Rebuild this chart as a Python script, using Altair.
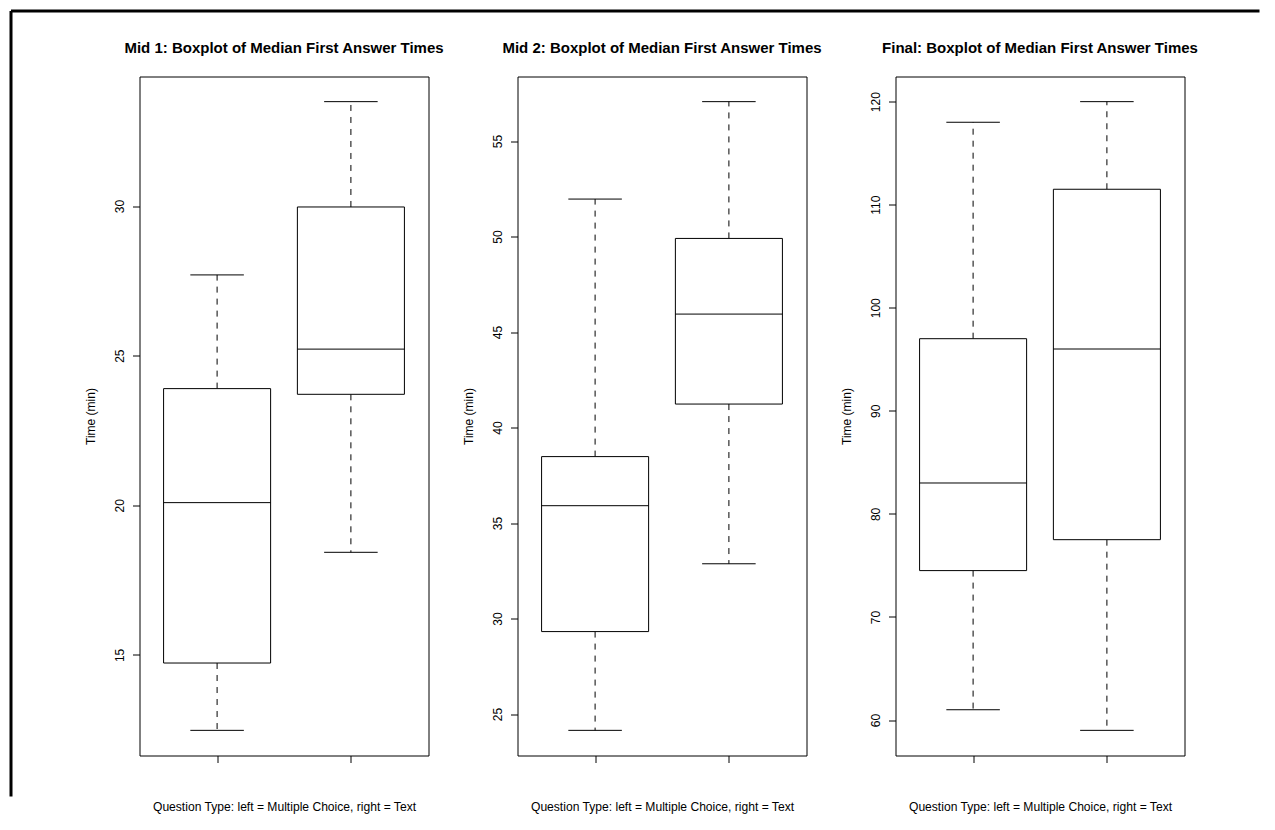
import altair as alt
import pandas as pd

# ---- data ----
exams = ["Mid 1", "Mid 2", "Final"]
group_labels = ["Multiple Choice", "Text"]
positions = [1, 2]

whisker_low = {"Mid 1": [12.48, 18.43], "Mid 2": [24.15, 32.87], "Final": [61.0, 59.0]}
q1_values = {"Mid 1": [14.73, 23.71], "Mid 2": [29.32, 41.23], "Final": [74.5, 77.5]}
median_values = {"Mid 1": [20.09, 25.22], "Mid 2": [35.91, 45.94], "Final": [83.0, 96.0]}
q3_values = {"Mid 1": [23.90, 29.97], "Mid 2": [38.48, 49.90], "Final": [97.0, 111.5]}
whisker_high = {"Mid 1": [27.70, 33.49], "Mid 2": [51.96, 57.06], "Final": [118.0, 120.0]}

y_ticks = {
    "Mid 1": [15, 20, 25, 30],
    "Mid 2": [25, 30, 35, 40, 45, 50, 55],
    "Final": [60, 70, 80, 90, 100, 110, 120],
}
x_ticks = [1, 2]

x_title = "Question Type: left = Multiple Choice, right = Text"
y_title = "Time (min)"

# ---- layout constants ----
W, H = 289, 679
SPACING = 89
FONT = "Liberation Sans"
BOXW = 0.4   # half box width
CAPW = 0.2   # half staple width


def panel(exam):
    df = pd.DataFrame({
        "group": group_labels,
        "pos": positions,
        "lo": whisker_low[exam],
        "q1": q1_values[exam],
        "med": median_values[exam],
        "q3": q3_values[exam],
        "hi": whisker_high[exam],
    })
    lo_all = min(whisker_low[exam])
    hi_all = max(whisker_high[exam])
    ext = 0.04 * (hi_all - lo_all)
    xmin, xmax = min(positions) - 0.5, max(positions) + 0.5
    xext = 0.04 * (xmax - xmin)

    xscale = alt.Scale(domain=[xmin - xext, xmax + xext], nice=False, zero=False)
    yscale = alt.Scale(domain=[lo_all - ext, hi_all + ext], nice=False, zero=False)

    xaxis = alt.Axis(values=x_ticks, labels=False, tickSize=7, domain=False, grid=False,
                     tickColor="black", tickWidth=1,
                     title=x_title, titleFont=FONT, titleFontSize=12.1, titleFontWeight="normal",
                     titleColor="black", titleX=W / 2, titleY=55.4,
                     titleAlign="center", titleBaseline="alphabetic")
    yaxis = alt.Axis(values=y_ticks[exam], tickSize=7, domain=False, grid=False,
                     tickColor="black", tickWidth=1,
                     labelAngle=270, labelAlign="center", labelBaseline="alphabetic",
                     labelPadding=9, labelFont=FONT, labelFontSize=12, labelColor="black",
                     labelOverlap=False, labelBound=False, labelFlush=False,
                     title=y_title, titleFont=FONT, titleFontSize=12, titleFontWeight="normal",
                     titleColor="black", titleAngle=270, titleX=-45.3, titleY=H / 2,
                     titleAlign="center", titleBaseline="alphabetic")

    base = alt.Chart(df).transform_calculate(
        xl=f"datum.pos - {BOXW}", xr=f"datum.pos + {BOXW}",
        cl=f"datum.pos - {CAPW}", cr=f"datum.pos + {CAPW}",
    )

    def X(field):
        return alt.X(f"{field}:Q", scale=xscale, axis=xaxis)

    def Y(field):
        return alt.Y(f"{field}:Q", scale=yscale, axis=yaxis)

    upper_wh = base.mark_rule(color="black", strokeWidth=1, strokeDash=[6, 6]).encode(
        x=X("pos"), y=Y("q3"), y2="hi:Q")
    lower_wh = base.mark_rule(color="black", strokeWidth=1, strokeDash=[6, 6]).encode(
        x=X("pos"), y=Y("q1"), y2="lo:Q")
    upper_cap = base.mark_rule(color="black", strokeWidth=1).encode(
        x=X("cl"), x2="cr:Q", y=Y("hi"))
    lower_cap = base.mark_rule(color="black", strokeWidth=1).encode(
        x=X("cl"), x2="cr:Q", y=Y("lo"))
    box = base.mark_rect(fill="white", stroke="black", strokeWidth=1).encode(
        x=X("xl"), x2="xr:Q", y=Y("q1"), y2="q3:Q")
    median = base.mark_rule(color="black", strokeWidth=1).encode(
        x=X("xl"), x2="xr:Q", y=Y("med"))

    return alt.layer(upper_wh, lower_wh, upper_cap, lower_cap, box, median).properties(
        width=W, height=H,
        title=alt.TitleParams(
            text=f"{exam}: Boxplot of Median First Answer Times",
            anchor="middle", frame="group", offset=8.5, baseline="alphabetic",
            font=FONT, fontSize=15, fontWeight="bold", color="black",
        ),
    )


# outer frame drawn from a thin helper panel on the left
frame_df = pd.DataFrame({"k": [0]})
frame_top = alt.Chart(frame_df).mark_rule(color="black", strokeWidth=3).encode(
    x=alt.value(-38.5), x2=alt.value(1210), y=alt.value(-65.5))
frame_left = alt.Chart(frame_df).mark_rule(color="black", strokeWidth=3).encode(
    x=alt.value(-38.5), y=alt.value(-65.5), y2=alt.value(720))
frame_panel = alt.layer(frame_top, frame_left).properties(
    width=1, height=H, view=alt.ViewBackground(stroke="transparent"))

chart = alt.hconcat(
    frame_panel, *[panel(e) for e in exams], spacing=SPACING, bounds="flush"
).properties(
    padding={"left": 0.5, "top": 0.5, "right": 0, "bottom": 0},
    background="white",
).configure_view(stroke="black", strokeWidth=1)

chart.save("out.html", embed_options={"renderer": "svg", "actions": False})
